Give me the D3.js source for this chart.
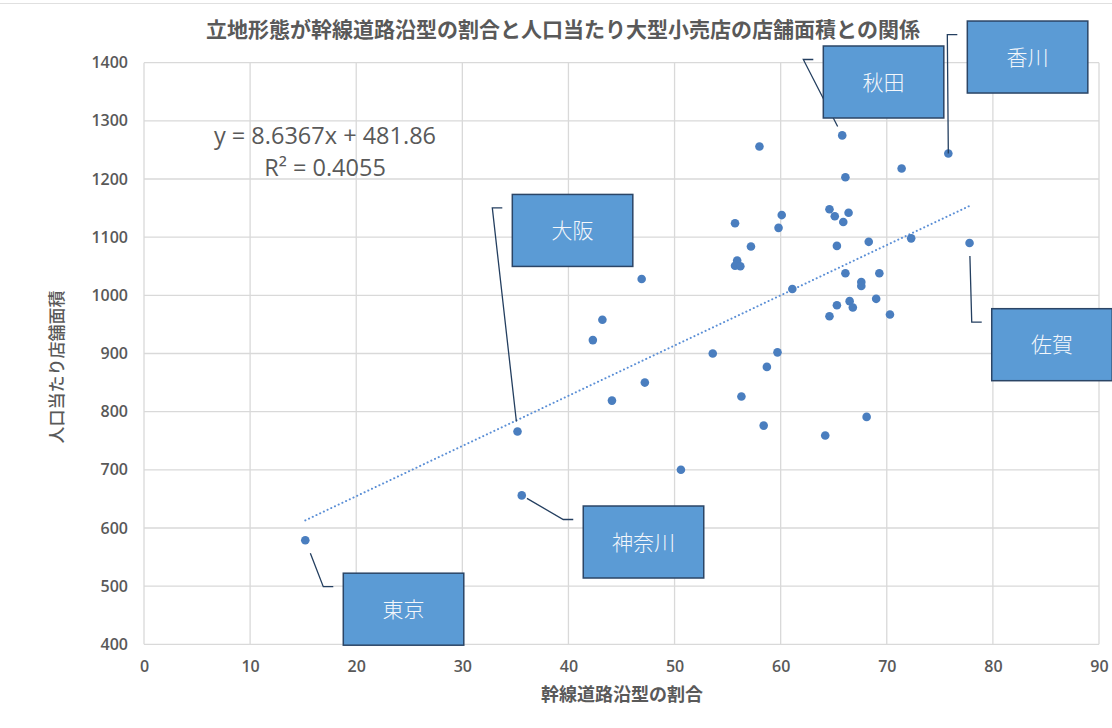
<!DOCTYPE html>
<html><head><meta charset="utf-8">
<script src="https://cdn.jsdelivr.net/npm/d3@7/dist/d3.min.js"></script>
<style>body{margin:0;background:#fff;} svg{display:block;}</style>
</head><body>
<svg id="chart" width="1112" height="728"></svg>
<script>
// ---- data ----
const shareRoadside = [15.2, 35.6, 35.2, 65.8, 75.8, 77.8,
  58.0, 55.7, 60.1, 59.8, 57.2, 55.9, 55.7, 56.2, 46.9, 61.1, 43.2,
  71.4, 66.1, 64.6, 65.1, 66.4, 65.9, 72.3, 65.3, 68.3, 66.1, 69.3,
  67.6, 67.6, 66.5, 69.0, 65.3, 66.8, 64.6, 70.3, 42.3, 53.6, 59.7,
  58.7, 47.2, 44.1, 56.3, 58.4, 64.2, 68.1, 50.6];
const floorAreaPerCapita = [579, 656, 766, 1275, 1244, 1090,
  1256, 1124, 1138, 1116, 1084, 1060, 1051, 1050, 1028, 1011, 958,
  1218, 1203, 1148, 1136, 1142, 1126, 1098, 1085, 1092, 1038, 1038,
  1023, 1016, 990, 994, 983, 979, 964, 967, 923, 900, 902,
  877, 850, 819, 826, 776, 759, 791, 700];
const xTicks = [0, 10, 20, 30, 40, 50, 60, 70, 80, 90];
const yTicks = [400, 500, 600, 700, 800, 900, 1000, 1100, 1200, 1300, 1400];
const calloutNames = ["東京", "神奈川", "大阪", "秋田", "香川", "佐賀"];
const calloutIndex = [0, 1, 2, 3, 4, 5];
const titleText = "立地形態が幹線道路沿型の割合と人口当たり大型小売店の店舗面積との関係";
const xAxisTitle = "幹線道路沿型の割合";
const yAxisTitle = "人口当たり店舗面積";
const trendSlope = 8.6367, trendIntercept = 481.86, trendR2 = 0.4055;

// ---- layout ----
const plot = {left: 144, right: 1099, top: 62.7, bottom: 644.3};
const calloutLayout = [ // box offset from point (px), leader gap
  {dx: 38, dy: 33, gap: 14},
  {dx: 61.5, dy: 10.6, gap: 6},
  {dx: -5.2, dy: -237, gap: 10},
  {dx: -18.9, dy: -89.4, gap: 10},
  {dx: 19, dy: -132.4, gap: 0},
  {dx: 22.2, dy: 65.7, gap: 13}
];
const boxW = 120.5, boxH = 72;
const grey = "#595959", gridC = "#d9d9d9";
const tickFont = "'Open Sans', 'Liberation Sans', sans-serif";
const cjkFont = "'Noto Sans CJK JP', 'Noto Sans', sans-serif";

const svg = d3.select("#chart");
const x = d3.scaleLinear().domain([0, 90]).range([plot.left, plot.right]);
const y = d3.scaleLinear().domain([400, 1400]).range([plot.bottom, plot.top]);

// faint chart border top
svg.append("line").attr("x1", 0).attr("x2", 1112).attr("y1", 3.5).attr("y2", 3.5)
  .attr("stroke", "#e0e0e0").attr("stroke-width", 1);

// gridlines
svg.append("g").selectAll("line").data(yTicks).join("line")
  .attr("x1", plot.left).attr("x2", plot.right)
  .attr("y1", d => y(d)).attr("y2", d => y(d))
  .attr("stroke", gridC).attr("stroke-width", 1.3);
svg.append("g").selectAll("line").data(xTicks).join("line")
  .attr("y1", plot.top).attr("y2", plot.bottom)
  .attr("x1", d => x(d)).attr("x2", d => x(d))
  .attr("stroke", gridC).attr("stroke-width", 1.3);

// axes labels via d3 axes
const xAxis = svg.append("g").attr("transform", `translate(0,${plot.bottom})`)
  .call(d3.axisBottom(x).tickValues(xTicks).tickFormat(d3.format("d")).tickSize(0).tickPadding(16));
const yAxis = svg.append("g").attr("transform", `translate(${plot.left},0)`)
  .call(d3.axisLeft(y).tickValues(yTicks).tickFormat(d3.format("d")).tickSize(0).tickPadding(16));
[xAxis, yAxis].forEach(a => {
  a.select(".domain").remove();
  a.selectAll("text").attr("fill", grey).style("font-family", tickFont)
    .style("font-size", "16px").style("font-weight", "600");
});

// trendline
const xExt = d3.extent(shareRoadside);
svg.append("line")
  .attr("x1", x(xExt[0])).attr("y1", y(trendSlope * xExt[0] + trendIntercept))
  .attr("x2", x(xExt[1])).attr("y2", y(trendSlope * xExt[1] + trendIntercept))
  .attr("stroke", "#5b8fd6").attr("stroke-width", 2)
  .attr("stroke-dasharray", "0.1,4").attr("stroke-linecap", "round");

// points
svg.append("g").selectAll("circle").data(shareRoadside.map((v, i) => [v, floorAreaPerCapita[i]]))
  .join("circle")
  .attr("cx", d => x(d[0])).attr("cy", d => y(d[1])).attr("r", 4.3)
  .attr("fill", "#4a7ebf");

// equation
svg.append("text").attr("x", 325).attr("y", 144).attr("text-anchor", "middle")
  .attr("fill", grey).style("font-family", tickFont).style("font-size", "23.5px")
  .text(`y = ${trendSlope}x + ${trendIntercept}`);
svg.append("text").attr("x", 325).attr("y", 176).attr("text-anchor", "middle")
  .attr("fill", grey).style("font-family", tickFont).style("font-size", "23.5px")
  .text(`R² = ${trendR2}`);

// callouts
calloutNames.forEach((name, k) => {
  const i = calloutIndex[k], L = calloutLayout[k];
  const px = x(shareRoadside[i]), py = y(floorAreaPerCapita[i]);
  const bx = px + L.dx, by = py + L.dy;
  const hx0 = bx - 20, hx1 = bx - 10, hy = by + 13.5;
  const vx = px - hx0, vy = py - hy, len = Math.hypot(vx, vy);
  const ex = hx0 + vx * (len - L.gap) / len, ey = hy + vy * (len - L.gap) / len;
  svg.append("path").attr("d", d3.line()([[ex, ey], [hx0, hy], [hx1, hy]]))
    .attr("fill", "none").attr("stroke", "#243f60").attr("stroke-width", 1.3);
  svg.append("rect").attr("x", bx).attr("y", by).attr("width", boxW).attr("height", boxH)
    .attr("fill", "#5b9bd5").attr("stroke", "#2b4566").attr("stroke-width", 1.5);
  svg.append("text").attr("x", bx + boxW / 2).attr("y", by + boxH / 2 + 7.5)
    .attr("text-anchor", "middle").attr("fill", "#f4f7fb")
    .style("font-family", cjkFont).style("font-size", "21px").style("font-weight", "300")
    .text(name);
});

// titles
svg.append("text").attr("x", 563).attr("y", 37).attr("text-anchor", "middle")
  .attr("fill", grey).style("font-family", cjkFont).style("font-size", "21px").style("font-weight", "700")
  .text(titleText);
svg.append("text").attr("x", 622).attr("y", 701).attr("text-anchor", "middle")
  .attr("fill", grey).style("font-family", cjkFont).style("font-size", "18px").style("font-weight", "700")
  .text(xAxisTitle);
svg.append("text").attr("transform", "translate(63,367) rotate(-90)").attr("text-anchor", "middle")
  .attr("fill", grey).style("font-family", cjkFont).style("font-size", "17px").style("font-weight", "500")
  .text(yAxisTitle);
</script>
</body></html>
